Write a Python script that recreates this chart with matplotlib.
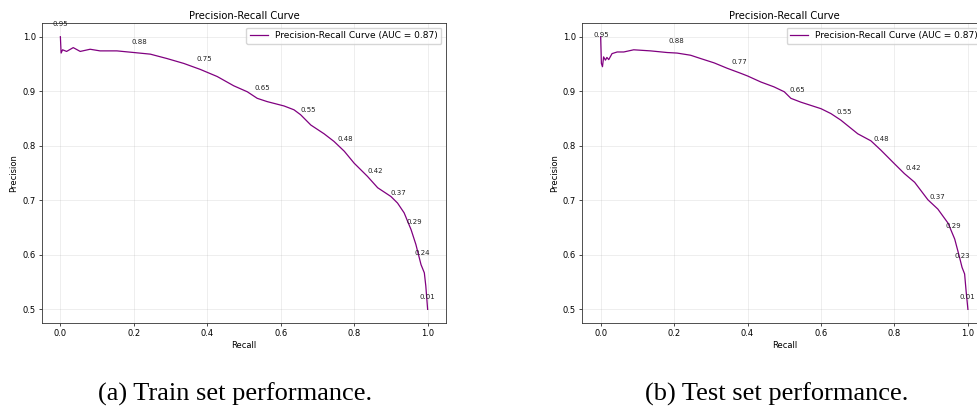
import matplotlib.pyplot as plt
import numpy as np

# train set curve
train_recall = [0.0, 0.002, 0.006, 0.017, 0.035, 0.054, 0.081, 0.108, 0.154, 0.2, 0.245, 0.29,
                0.336, 0.381, 0.427, 0.472, 0.509, 0.536, 0.563, 0.609, 0.636, 0.654, 0.682,
                0.718, 0.745, 0.773, 0.8, 0.836, 0.864, 0.9, 0.918, 0.936, 0.955, 0.968,
                0.982, 0.991, 0.995, 1.0]
train_precision = [1.0, 0.970, 0.976, 0.973, 0.980, 0.973, 0.977, 0.974, 0.974, 0.971, 0.968, 0.960,
                   0.951, 0.940, 0.927, 0.910, 0.899, 0.887, 0.881, 0.873, 0.866, 0.857, 0.838,
                   0.822, 0.808, 0.790, 0.768, 0.744, 0.723, 0.707, 0.695, 0.677, 0.646, 0.619,
                   0.582, 0.567, 0.543, 0.5]
train_ann_r = [0.0, 0.216, 0.392, 0.551, 0.676, 0.775, 0.857, 0.921, 0.963, 0.985, 0.999]
train_ann_p = [1.0, 0.968, 0.937, 0.883, 0.842, 0.789, 0.730, 0.690, 0.637, 0.580, 0.5]
train_ann_lbl = ["0.95", "0.88", "0.75", "0.65", "0.55", "0.48", "0.42", "0.37", "0.29", "0.24", "0.01"]

# test set curve
test_recall = [0.0, 0.002, 0.005, 0.008, 0.013, 0.017, 0.022, 0.031, 0.045, 0.063, 0.09, 0.136,
               0.181, 0.208, 0.245, 0.272, 0.309, 0.345, 0.381, 0.4, 0.436, 0.472, 0.5, 0.518,
               0.545, 0.6, 0.627, 0.654, 0.7, 0.736, 0.763, 0.8, 0.827, 0.855, 0.891, 0.918,
               0.946, 0.964, 0.977, 0.984, 0.991, 0.995, 1.0]
test_precision = [1.0, 0.951, 0.945, 0.963, 0.957, 0.962, 0.958, 0.969, 0.972, 0.972, 0.976, 0.974,
                  0.971, 0.970, 0.966, 0.960, 0.952, 0.942, 0.933, 0.928, 0.917, 0.908, 0.899, 0.887,
                  0.880, 0.868, 0.859, 0.847, 0.822, 0.809, 0.792, 0.767, 0.749, 0.733, 0.701, 0.684,
                  0.658, 0.629, 0.596, 0.577, 0.565, 0.534, 0.5]
test_ann_r = [0.002, 0.205, 0.379, 0.536, 0.664, 0.765, 0.851, 0.918, 0.961, 0.984, 0.998]
test_ann_p = [0.981, 0.969, 0.930, 0.880, 0.839, 0.789, 0.737, 0.684, 0.630, 0.575, 0.5]
test_ann_lbl = ["0.95", "0.88", "0.77", "0.65", "0.55", "0.48", "0.42", "0.37", "0.29", "0.23", "0.01"]

auc_val = 0.87

fig = plt.figure(figsize=(9.77, 4.12), dpi=100)
ax1 = fig.add_axes([0.043, 0.216, 0.4135, 0.728])
ax2 = fig.add_axes([0.596, 0.216, 0.4135, 0.728])


def draw(ax, rec, prec, ar, ap, al):
    ax.plot(rec, prec, color="purple", lw=0.9, label=f"Precision-Recall Curve (AUC = {auc_val:.2f})")
    for r, p, t in zip(ar, ap, al):
        ax.annotate(t, (r, p), textcoords="offset points", xytext=(0, 9),
                    ha="center", va="center", fontsize=5, color="#222222")
    ax.set_title("Precision-Recall Curve", fontsize=7.2, pad=3)
    ax.set_xlabel("Recall", fontsize=6, labelpad=2)
    ax.set_ylabel("Precision", fontsize=6, labelpad=3)
    ax.set_xticks([0.0, 0.2, 0.4, 0.6, 0.8, 1.0])
    ax.set_yticks([0.5, 0.6, 0.7, 0.8, 0.9, 1.0])
    ax.tick_params(labelsize=6, length=2.5, width=0.5, pad=2)
    ax.grid(True, alpha=0.3, lw=0.5)
    for s in ax.spines.values():
        s.set_linewidth(0.6)
        s.set_color("#333333")
    ax.legend(loc="upper right", fontsize=6.5, handlelength=2, borderpad=0.4, framealpha=0.8)


draw(ax1, train_recall, train_precision, train_ann_r, train_ann_p, train_ann_lbl)
draw(ax2, test_recall, test_precision, test_ann_r, test_ann_p, test_ann_lbl)

fig.text(0.2405, 0.043, "(a) Train set performance.", ha="center", va="center",
         fontsize=19, family="Liberation Serif")
fig.text(0.795, 0.043, "(b) Test set performance.", ha="center", va="center",
         fontsize=19, family="Liberation Serif")

fig.savefig("out.png", dpi=100)
